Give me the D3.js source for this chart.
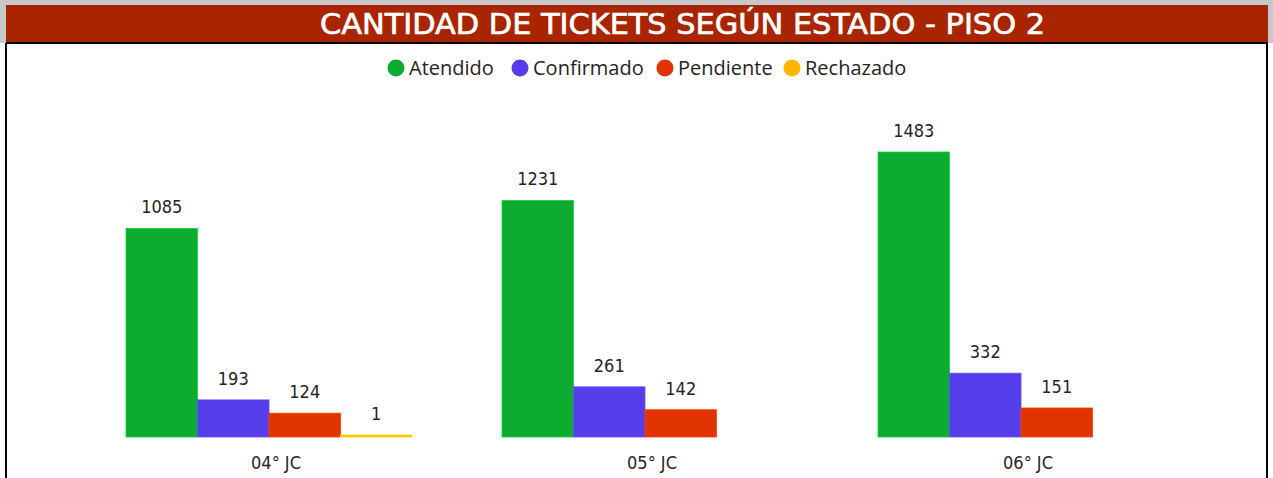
<!DOCTYPE html>
<html>
<head>
<meta charset="utf-8">
<script src="https://cdn.jsdelivr.net/npm/d3@7"></script>
<style>
  body { margin: 0; background: #fff; }
  svg { display: block; }
</style>
</head>
<body>
<div id="chart"></div>
<script>
const categories = ["04° JC", "05° JC", "06° JC"];
const estados = ["Atendido", "Confirmado", "Pendiente", "Rechazado"];
const atendido = [1085, 1231, 1483];
const confirmado = [193, 261, 332];
const pendiente = [124, 142, 151];
const rechazado = [1, 0, 0];

const COLORS = {
  Atendido: "#0dac31",
  Confirmado: "#553de9",
  Pendiente: "#e03300",
  Rechazado: "#ffb400",
};

const W = 1273, H = 478;
const series = { Atendido: atendido, Confirmado: confirmado, Pendiente: pendiente, Rechazado: rechazado };

const rows = categories.map((c, i) => ({
  cat: c,
  values: estados
    .map((e) => ({ key: e, value: series[e][i] }))
    .filter((d) => d.value > 0),
}));

const svg = d3.select("#chart").append("svg").attr("width", W).attr("height", H);

// frame
svg.append("rect").attr("x", 0).attr("y", 0).attr("width", W).attr("height", H).attr("fill", "#fff");
svg.append("rect").attr("x", 0).attr("y", 0).attr("width", W).attr("height", 43).attr("fill", "#c8c8c8");
svg.append("rect").attr("x", 6).attr("y", 5).attr("width", 1262).attr("height", 38).attr("fill", "#a92500");
svg.append("line").attr("x1", 6).attr("x2", 1268).attr("y1", 43).attr("y2", 43).attr("stroke", "#000").attr("stroke-width", 2);
svg.append("line").attr("x1", 6).attr("x2", 6).attr("y1", 43).attr("y2", H).attr("stroke", "#000").attr("stroke-width", 2);
svg.append("line").attr("x1", 1267).attr("x2", 1267).attr("y1", 43).attr("y2", H).attr("stroke", "#000").attr("stroke-width", 2);

svg.append("text")
  .attr("x", 320)
  .attr("y", 34)
  .attr("fill", "#fff")
  .attr("textLength", 725)
  .attr("lengthAdjust", "spacingAndGlyphs")
  .style("font-family", "'DejaVu Sans Condensed', 'DejaVu Sans', sans-serif")
  .style("font-size", "28px")
  .style("font-weight", "normal")
  .style("stroke", "#fff")
  .style("stroke-width", 0.6)
  .text("CANTIDAD DE TICKETS SEGÚN ESTADO - PISO 2");

// legend
const legendX = [396, 520, 665, 792];
const legend = svg.selectAll("g.legend")
  .data(estados)
  .join("g")
  .attr("class", "legend")
  .attr("transform", (d, i) => `translate(${legendX[i]},68)`);
legend.append("circle").attr("r", 8.5).attr("fill", (d) => COLORS[d]);
legend.append("text")
  .attr("x", 13)
  .attr("y", 7)
  .attr("fill", "#252423")
  .style("font-family", "'Open Sans', 'Noto Sans', sans-serif")
  .style("font-size", "20px")
  .text((d) => d);

// scales
const x0 = d3.scaleBand().domain(categories).range([126, 1164]).paddingInner(0.2394).paddingOuter(0);
const x1 = d3.scaleBand().domain(estados).range([0, x0.bandwidth()]);
const y = d3.scaleLinear().domain([0, 1483]).range([437, 152]);

const groups = svg.selectAll("g.group")
  .data(rows)
  .join("g")
  .attr("class", "group")
  .attr("transform", (d) => `translate(${x0(d.cat)},0)`);

groups.selectAll("rect")
  .data((d) => d.values)
  .join("rect")
  .attr("x", (d) => x1(d.key))
  .attr("y", (d) => Math.min(y(d.value), 435))
  .attr("width", x1.bandwidth())
  .attr("height", (d) => Math.max(437 - y(d.value), 2))
  .attr("fill", (d) => COLORS[d.key])
  .attr("stroke", (d) => d3.color(COLORS[d.key]).brighter(0.6))
  .attr("stroke-width", 0.8);

groups.selectAll("text.val")
  .data((d) => d.values)
  .join("text")
  .attr("class", "val")
  .attr("x", (d) => x1(d.key) + x1.bandwidth() / 2)
  .attr("y", (d) => Math.min(y(d.value), 435) - 15)
  .attr("text-anchor", "middle")
  .attr("fill", "#252423")
  .style("font-family", "'DejaVu Sans Condensed', 'DejaVu Sans', sans-serif")
  .style("font-size", "18px")
  .text((d) => d.value);

// category axis labels
svg.selectAll("text.cat")
  .data(categories)
  .join("text")
  .attr("class", "cat")
  .attr("x", (d) => x0(d) + x0.bandwidth() / 2 + 7)
  .attr("y", 469)
  .attr("text-anchor", "middle")
  .attr("fill", "#252423")
  .style("font-family", "'DejaVu Sans Condensed', 'DejaVu Sans', sans-serif")
  .style("font-size", "18px")
  .text((d) => d);
</script>
</body>
</html>
